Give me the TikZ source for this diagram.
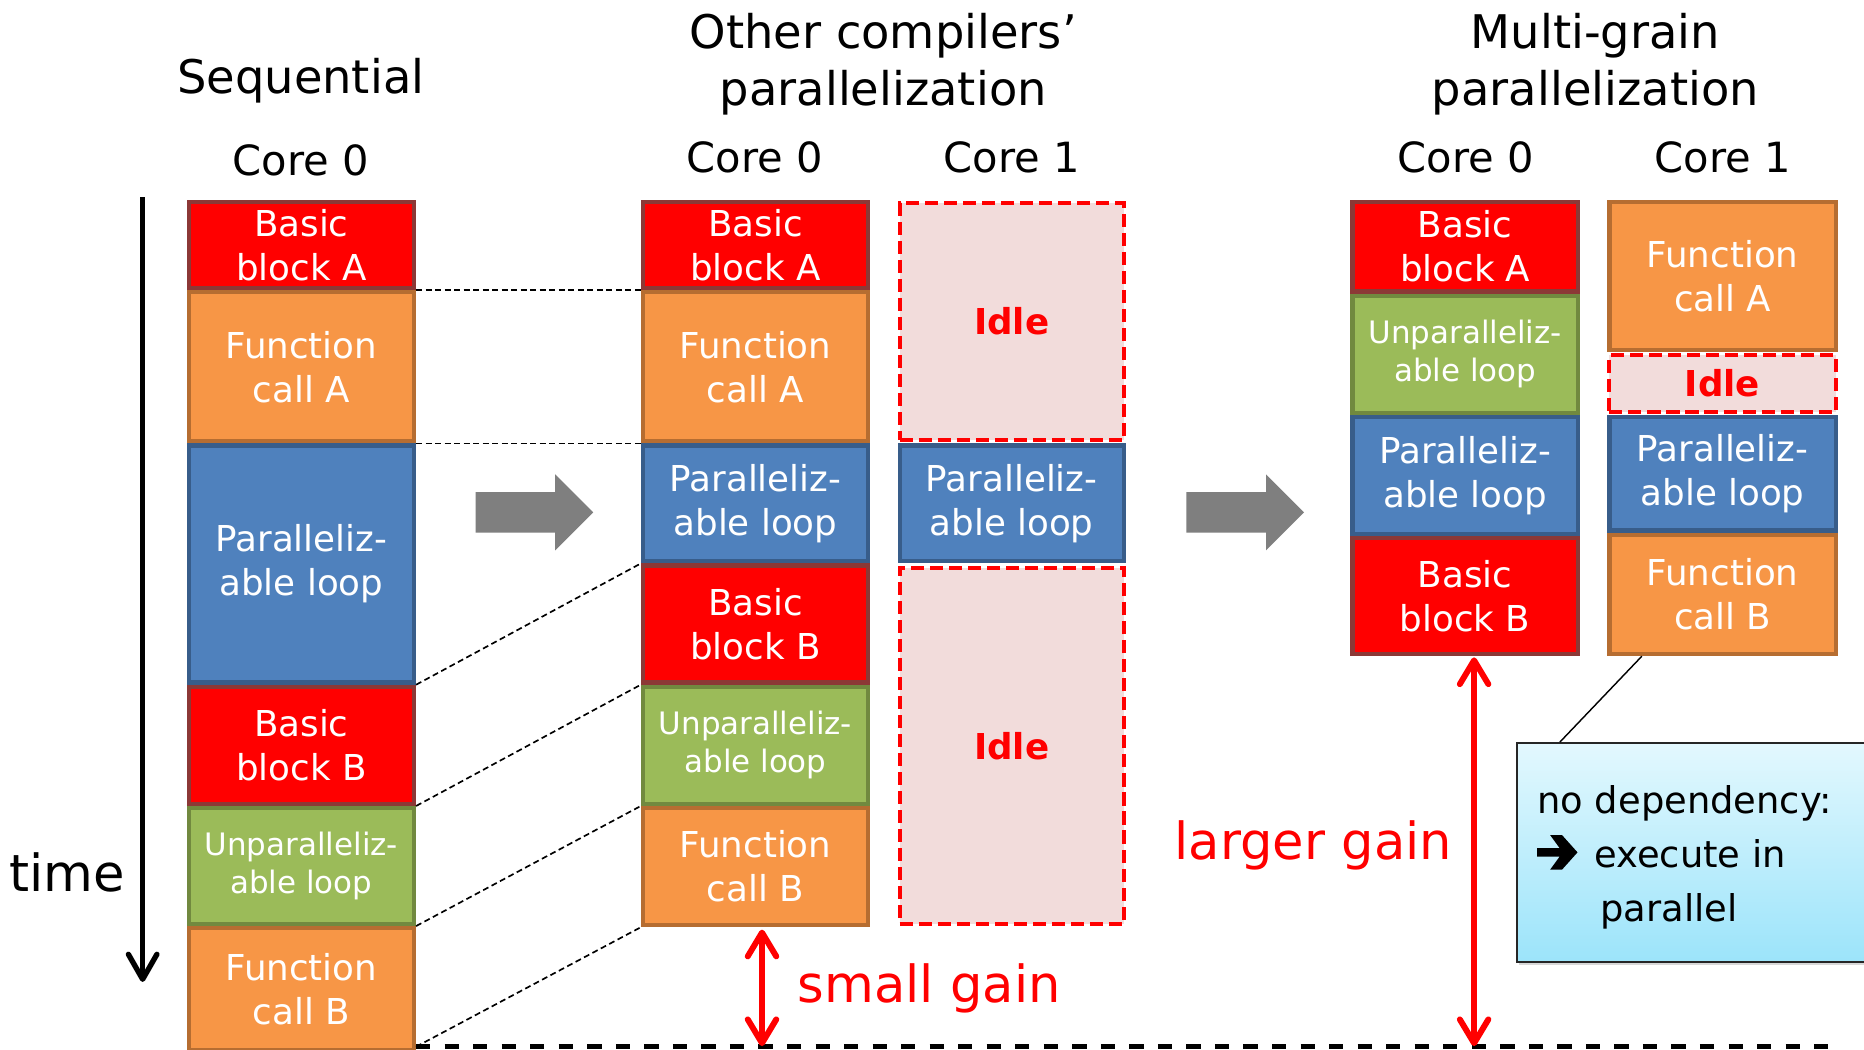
\documentclass[tikz,border=0pt]{standalone}
\usepackage{fontspec}
\setmainfont{DejaVu Sans}
\usetikzlibrary{arrows.meta,backgrounds,shadows,calc}

\definecolor{bbRed}{HTML}{FF0000}
\definecolor{bbRedE}{HTML}{8C3836}
\definecolor{fcOr}{HTML}{F79646}
\definecolor{fcOrE}{HTML}{B66D31}
\definecolor{plBl}{HTML}{4F81BD}
\definecolor{plBlE}{HTML}{385D8A}
\definecolor{ulGr}{HTML}{9BBB59}
\definecolor{ulGrE}{HTML}{71893F}
\definecolor{idleF}{HTML}{F2DCDB}
\definecolor{arrGray}{HTML}{7F7F7F}
\definecolor{noteTop}{HTML}{E3F8FE}
\definecolor{noteBot}{HTML}{9CE4FA}
\definecolor{edgeTint}{HTML}{F3E3E3}

% one block of a schedule column: name, style, x1, y1, x2, y2, text
\newcommand\cellbox[7]{%
  \pgfmathsetmacro\cellw{#5-#3-3.6}%
  \pgfmathsetmacro\cellh{#6-#4-3.6}%
  \node[#2,minimum width=\cellw pt,minimum height=\cellh pt] (#1) at ({(#3+#5)/2},{(#4+#6)/2}) {#7};%
}

\tikzset{
  cellbase/.style={line width=3.6pt, inner sep=0pt, align=center, text=white,
    font=\fontsize{30}{37}\selectfont},
  bblock/.style={cellbase, fill=bbRed, draw=bbRedE},
  fcall/.style={cellbase, fill=fcOr, draw=fcOrE},
  ploop/.style={cellbase, fill=plBl, draw=plBlE},
  uloop/.style={cellbase, fill=ulGr, draw=ulGrE, font=\fontsize{26}{32}\selectfont},
  idlebox/.style={cellbase, line width=3.4pt, fill=idleF, draw=bbRed, dash pattern=on 11pt off 5pt,
    text=bbRed, font=\fontsize{30}{37}\selectfont\bfseries},
  hdr/.style={inner sep=0pt, font=\fontsize{39}{48}\selectfont},
  corelbl/.style={inner sep=0pt, font=\fontsize{35}{42}\selectfont},
  gainlbl/.style={inner sep=0pt, text=bbRed, font=\fontsize{43}{50}\selectfont},
  notetxt/.style={inner sep=0pt, font=\fontsize{31}{46}\selectfont},
  bigdash/.style={line width=4pt, dash pattern=on 12pt off 12pt},
  thindash/.style={line width=1.4pt, dash pattern=on 5pt off 3pt},
  gainarrow/.style={line width=5pt, draw=bbRed,
    {Straight Barb[length=20pt,width=24pt,round]}-{Straight Barb[length=20pt,width=24pt,round]}},
  timearrow/.style={line width=4.5pt, -{Straight Barb[length=21pt,width=24pt,round]}},
  blockarrow/.style={fill=arrGray},
}

\begin{document}
\begin{tikzpicture}[x=1pt,y=-1pt]
\fill[white] (0,0) rectangle (1568,883);
\useasboundingbox (0,0) rectangle (1568,883);

% headings
\node[hdr, anchor=base] (hSeq) at (253,79) {Sequential};
\node[corelbl, anchor=base] (cS0) at (253,148) {Core 0};
\node[hdr, anchor=base] (hOth1) at (743,41) {Other compilers’};
\node[hdr, anchor=base] (hOth2) at (743,89) {parallelization};
\node[corelbl, anchor=base] (cO0) at (635,145) {Core 0};
\node[corelbl, anchor=base] (cO1) at (851,145) {Core 1};
\node[hdr, anchor=base] (hMg1) at (1342,41) {Multi-grain};
\node[hdr, anchor=base] (hMg2) at (1342,89) {parallelization};
\node[corelbl, anchor=base] (cM0) at (1233,145) {Core 0};
\node[corelbl, anchor=base] (cM1) at (1449,145) {Core 1};

% sequential execution
\cellbox{sBA}{bblock}{157}{168}{350}{244}{Basic\\block A}
\cellbox{sFA}{fcall}{157}{244}{350}{373}{Function\\call A}
\cellbox{sPL}{ploop}{157}{373}{350}{576}{Paralleliz-\\able loop}
\cellbox{sBB}{bblock}{157}{576}{350}{678}{Basic\\block B}
\cellbox{sUL}{uloop}{157}{678}{350}{779}{Unparalleliz-\\able loop}
\cellbox{sFB}{fcall}{157}{779}{350}{885}{Function\\call B}

% loop-level parallelization, core 0
\cellbox{oBA}{bblock}{539}{168}{732}{244}{Basic\\block A}
\cellbox{oFA}{fcall}{539}{244}{732}{373}{Function\\call A}
\cellbox{oPL}{ploop}{539}{373}{732}{474}{Paralleliz-\\able loop}
\cellbox{oBB}{bblock}{539}{474}{732}{576}{Basic\\block B}
\cellbox{oUL}{uloop}{539}{576}{732}{678}{Unparalleliz-\\able loop}
\cellbox{oFB}{fcall}{539}{678}{732}{780}{Function\\call B}

% loop-level parallelization, core 1
\cellbox{oI1}{idlebox}{755}{169}{947}{372}{Idle}
\cellbox{oPL1}{ploop}{755}{373}{947}{474}{Paralleliz-\\able loop}
\cellbox{oI2}{idlebox}{755}{476}{947}{779}{Idle}

% multi-grain parallelization, core 0
\cellbox{mBA}{bblock}{1136}{168}{1329}{247}{Basic\\block A}
\cellbox{mUL}{uloop}{1136}{247}{1329}{349}{Unparalleliz-\\able loop}
\cellbox{mPL}{ploop}{1136}{349}{1329}{451}{Paralleliz-\\able loop}
\cellbox{mBB}{bblock}{1136}{451}{1329}{552}{Basic\\block B}

% multi-grain parallelization, core 1
\cellbox{mFA}{fcall}{1352}{168}{1546}{296}{Function\\call A}
\cellbox{mI}{idlebox}{1352}{297}{1546}{348}{Idle}
\cellbox{mPL1}{ploop}{1352}{349}{1546}{448}{Paralleliz-\\able loop}
\cellbox{mFB}{fcall}{1352}{448}{1546}{552}{Function\\call B}

\begin{pgfonlayer}{background}
  \fill[white] (0,0) rectangle (1568,883);
  \fill[top color=edgeTint, bottom color=white] (0,0) rectangle (1568,17);
  \fill[top color=white, bottom color=edgeTint] (0,866) rectangle (1568,883);
  \draw[bigdash] (sBA.north east) -- (mFA.north west);
\end{pgfonlayer}

% end of the schedules
\coordinate (bEnd) at (1546,880.5);
\draw[bigdash] (sFB.south east |- bEnd) -- (bEnd);

% mapping of the sequential blocks onto core 0
\draw[thindash] (sBA.south east) -- (oBA.south west);
\draw[thindash] (sFA.south east) -- (oFA.south west);
\draw[thindash] (sPL.south east) -- (oPL.south west);
\draw[thindash] (sBB.south east) -- (oBB.south west);
\draw[thindash] (sUL.south east) -- (oUL.south west);
\draw[thindash] (sFB.south east |- bEnd) -- (oFB.south west);

% time axis
\coordinate (tTop) at (120,166);
\coordinate (tBot) at (120,826);
\draw[timearrow] (tTop) -- (tBot);
\node[inner sep=0pt, anchor=base west, font=\fontsize{43}{50}\selectfont] (tL) at (8,750) {time};

% transition arrows
\fill[blockarrow] (400,414) -- (467,414) -- (467,399) -- (499,431) -- (467,463) -- (467,448) -- (400,448) -- cycle;
\fill[blockarrow] (998,414) -- (1065,414) -- (1065,399) -- (1097,431) -- (1065,463) -- (1065,448) -- (998,448) -- cycle;

% gains
\coordinate (sgTop) at (641,782);
\coordinate (sgBot) at (641,880);
\draw[gainarrow] (sgTop) -- (sgBot);
\node[gainlbl, anchor=base west] (sgL) at (671,843) {small gain};

\coordinate (lgTop) at (1240,553);
\coordinate (lgBot) at (1240,880);
\draw[gainarrow] (lgTop) -- (lgBot);
\node[gainlbl, anchor=base west] (lgL) at (988,723) {larger gain};

% remark on the independent function call
\node[draw=black!85, line width=1.6pt, top color=noteTop, bottom color=noteBot,
      drop shadow={opacity=0.3, shadow xshift=2pt, shadow yshift=-3pt},
      minimum width=314pt, minimum height=184pt, inner sep=0pt] (note) at (1433,717) {};
\draw[line width=1.2pt] ($(note.north west)+(37,0)$) -- ($(mFB.south west)!0.15!(mFB.south east)$);
\node[notetxt, anchor=base west] (n1) at (1293,684) {no dependency:};
% heavy arrow bullet
\fill (1293,713.5) -- (1312,713.5) -- (1304,702.5) -- (1314,702.5) -- (1327,717)
      -- (1314,731.5) -- (1304,731.5) -- (1312,720.5) -- (1293,720.5) -- cycle;
\node[notetxt, anchor=base west] (n2) at (1341,730) {execute in};
\node[notetxt, anchor=base west] (n3) at (1346,775) {parallel};
\end{tikzpicture}
\end{document}
